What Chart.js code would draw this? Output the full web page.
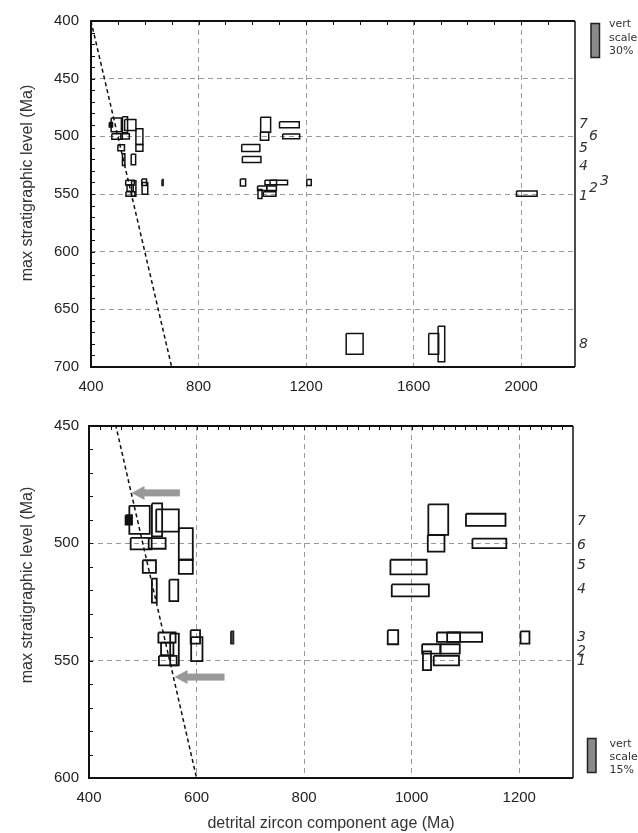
<!DOCTYPE html>
<html>
<head>
<meta charset="utf-8">
<script src="https://cdn.jsdelivr.net/npm/chart.js@4.4.1/dist/chart.umd.min.js"></script>
<style>
  html, body { margin: 0; padding: 0; background: #fff; }
  #wrap { position: relative; width: 638px; height: 833px; }
  canvas { position: absolute; left: 0; }
  #top { top: 0; }
  #bot { top: 405px; }
</style>
</head>
<body>
<div id="wrap">
  <canvas id="top" width="638" height="400"></canvas>
  <canvas id="bot" width="638" height="428"></canvas>
</div>
<script>
// ═══ data (Ma) ═══
// zircon component boxes: [age min, age max, level top, level bottom]
const boxes = [
  [475, 513, 484, 496], [517, 536, 483, 497], [525, 567, 485.5, 495],
  [567, 593, 493.5, 507], [567, 593, 507, 513],
  [477.5, 516.5, 497.7, 502.6], [511, 542.5, 497.8, 502.3],
  [500, 524.5, 507.2, 512.6], [517, 526, 515, 525.3], [549.5, 566, 515.5, 524.6],
  [529, 561, 538, 542.3], [534, 557, 542.3, 547.7], [551, 567, 538.5, 552], [530, 563, 548, 552],
  [589, 606.5, 537, 542.7], [590, 611, 540, 550.2],
  [1031, 1068, 483.4, 496.4], [1030, 1061, 496.5, 503.5],
  [1101, 1174.5, 487.4, 492.6], [1113, 1176, 498, 502],
  [960.5, 1028, 507, 513.2], [963, 1032, 517.5, 522.6],
  [955.5, 975, 537, 543], [1047, 1090, 538, 542], [1066, 1131, 538, 542],
  [1202.5, 1219, 537.5, 542.7],
  [1019.5, 1053.5, 543, 547], [1053.5, 1089.5, 543, 547],
  [1021, 1036, 546, 554], [1041, 1088, 548, 552],
  [1982.5, 2059, 547.4, 552],
  [1349, 1412, 671, 689], [1656, 1693, 671, 689], [1691, 1715.5, 664.7, 695.4]
];
const blackBoxes = [[468, 480, 488, 492]];
const greyBoxes = [[664, 668.5, 537.5, 542.7]];

// age = stratigraphic level
const equalLine = [[400, 400], [700, 700]];

// grey arrows (bottom panel): tail and tip, [age, level]
const arrowTail = [[569, 478.5], [652, 557]];
const arrowTip = [[479, 478.5], [559, 557]];

const topLabels = ["7", "6", "5", "4", "3", "2", "1", "8"];
const topLabelLevels = [489.7, 500.3, 510, 526, 539.4, 545, 552, 680];
const botLabels = ["7", "6", "5", "4", "3", "2", "1"];
const botLabelLevels = [490.6, 500.7, 509.4, 519.8, 540, 546, 550.4];

const sans = '"Liberation Sans", Arial, sans-serif';

function rect(b) {
  return [
    { x: b[0], y: b[2] }, { x: b[1], y: b[2] }, { x: b[1], y: b[3] },
    { x: b[0], y: b[3] }, { x: b[0], y: b[2] }
  ];
}

function buildDatasets(lw) {
  const ds = [];
  ds.push({
    data: equalLine.map((p) => ({ x: p[0], y: p[1] })),
    borderColor: "#111", borderWidth: 1.5, borderDash: [4, 3], showLine: true, pointRadius: 0
  });
  boxes.forEach((b) => ds.push({
    data: rect(b), borderColor: "#111", borderWidth: lw, showLine: true, pointRadius: 0, fill: false
  }));
  blackBoxes.forEach((b) => ds.push({
    data: rect(b), borderColor: "#111", backgroundColor: "#111", borderWidth: lw, showLine: true, pointRadius: 0, fill: "shape"
  }));
  greyBoxes.forEach((b) => ds.push({
    data: rect(b), borderColor: "#222", backgroundColor: "#777", borderWidth: lw, showLine: true, pointRadius: 0, fill: "shape"
  }));
  return ds;
}

// frame, inward minor ticks, arrows, side labels, scale key, y title
const deco = {
  id: "deco",
  afterDatasetsDraw(chart, args, o) {
    const { ctx, chartArea: a, scales: { x, y } } = chart;
    ctx.save();

    if (o.arrows) {
      ctx.fillStyle = "#999";
      arrowTail.forEach((t, i) => {
        const x0 = x.getPixelForValue(t[0]);
        const x1 = x.getPixelForValue(arrowTip[i][0]);
        const yy = y.getPixelForValue(arrowTip[i][1]);
        ctx.fillRect(x1 + 12, yy - 3.5, x0 - x1 - 12, 7);
        ctx.beginPath();
        ctx.moveTo(x1, yy);
        ctx.lineTo(x1 + 13, yy - 7);
        ctx.lineTo(x1 + 13, yy + 7);
        ctx.closePath();
        ctx.fill();
      });
    }

    ctx.strokeStyle = "#111";
    ctx.lineWidth = 2;
    ctx.beginPath();
    ctx.moveTo(a.right, a.top);
    ctx.lineTo(a.left, a.top);
    ctx.lineTo(a.left, a.bottom);
    ctx.lineTo(a.right, a.bottom);
    ctx.stroke();
    ctx.lineWidth = 1.5;
    ctx.beginPath();
    ctx.moveTo(a.right, a.top);
    ctx.lineTo(a.right, a.bottom);
    ctx.stroke();

    ctx.lineWidth = 1;
    ctx.beginPath();
    const nx = Math.round((x.max - x.min) / o.xMinor);
    for (let i = 1; i < nx; i++) {
      const px = Math.round(x.getPixelForValue(x.min + i * o.xMinor)) + 0.5;
      ctx.moveTo(px, a.top);
      ctx.lineTo(px, a.top + 4);
    }
    const ny = Math.round((y.max - y.min) / o.yMinor);
    for (let i = 1; i < ny; i++) {
      const py = Math.round(y.getPixelForValue(y.min + i * o.yMinor)) + 0.5;
      ctx.moveTo(a.left, py);
      ctx.lineTo(a.left + 4, py);
    }
    ctx.stroke();

    ctx.fillStyle = "#333";
    ctx.textAlign = "left";
    ctx.textBaseline = "middle";
    ctx.font = 'italic 14px "DejaVu Sans", Verdana, sans-serif';
    o.labels.forEach((t, i) => {
      ctx.fillText(t, a.right + o.labelDx[i], y.getPixelForValue(o.levels[i]));
    });

    const k = o.key;
    ctx.fillStyle = "#8a8a8a";
    ctx.fillRect(k.x, k.y, 8.5, 34);
    ctx.strokeStyle = "#222";
    ctx.lineWidth = 1.5;
    ctx.strokeRect(k.x, k.y, 8.5, 34);
    ctx.fillStyle = "#333";
    ctx.font = '11px "DejaVu Sans", Verdana, sans-serif';
    ["vert", "scale", k.text].forEach((t, i) => ctx.fillText(t, k.tx, k.ty + i * 13.2));

    ctx.save();
    ctx.translate(27.5, o.titleY);
    ctx.rotate(-Math.PI / 2);
    ctx.textAlign = "center";
    ctx.font = "16px " + sans;
    ctx.fillText("max stratigraphic level (Ma)", 0, 0);
    ctx.restore();

    ctx.restore();
  }
};

function makeChart(id, p) {
  const keep = (step) => (s) => { s.ticks = s.ticks.filter((t) => t.value % step === 0); };
  return new Chart(document.getElementById(id), {
    type: "scatter",
    data: { datasets: buildDatasets(p.lw) },
    options: {
      responsive: false,
      animation: false,
      events: [],
      layout: { padding: { top: p.top, right: p.right, left: 0, bottom: 0 } },
      plugins: { legend: { display: false }, tooltip: { enabled: false }, deco: p.deco },
      scales: {
        x: {
          type: "linear", min: p.xMin, max: p.xMax,
          afterBuildTicks: keep(p.xStep),
          afterFit: (s) => { s.height = p.xH; },
          ticks: { stepSize: p.xStep, padding: 11, color: "#222", font: { family: sans, size: 15 }, callback: (v) => String(v) },
          grid: { color: "#9a9a9a", lineWidth: 1, drawTicks: false },
          border: { display: false, dash: [5, 4] },
          title: { display: !!p.xTitle, text: p.xTitle || "", color: "#333", font: { family: sans, size: 16 }, padding: { top: 0, bottom: 0 } }
        },
        y: {
          type: "linear", reverse: true, min: p.yMin, max: p.yMax,
          afterBuildTicks: keep(50),
          afterFit: (s) => { s.width = p.yW; },
          ticks: { stepSize: 50, padding: p.yPad, color: "#222", font: { family: sans, size: 15 }, callback: (v) => String(v) },
          grid: { color: "#9a9a9a", lineWidth: 1, drawTicks: false },
          border: { display: false, dash: [5, 4] }
        }
      }
    },
    plugins: [deco]
  });
}

makeChart("top", {
  lw: 1.5, top: 19, right: 63, xH: 33, yW: 91, yPad: 12,
  xMin: 400, xMax: 2200, xStep: 400, yMin: 400, yMax: 700,
  deco: {
    xMinor: 100, yMinor: 10, arrows: false,
    labels: topLabels, levels: topLabelLevels,
    labelDx: [4, 14, 4, 4, 25, 14, 4, 4],
    key: { x: 591, y: 23.5, tx: 609, ty: 24.5, text: "30%" },
    titleY: 183
  }
});

makeChart("bot", {
  lw: 1.8, top: 21, right: 65, xH: 55, yW: 89, yPad: 10,
  xMin: 400, xMax: 1300, xStep: 200, yMin: 450, yMax: 600,
  xTitle: "detrital zircon component age (Ma)",
  deco: {
    xMinor: 20, yMinor: 10, arrows: true,
    labels: botLabels, levels: botLabelLevels,
    labelDx: [4, 4, 4, 4, 4, 4, 4],
    key: { x: 587.5, y: 333.5, tx: 609.5, ty: 339, text: "15%" },
    titleY: 180
  }
});
</script>
</body>
</html>
